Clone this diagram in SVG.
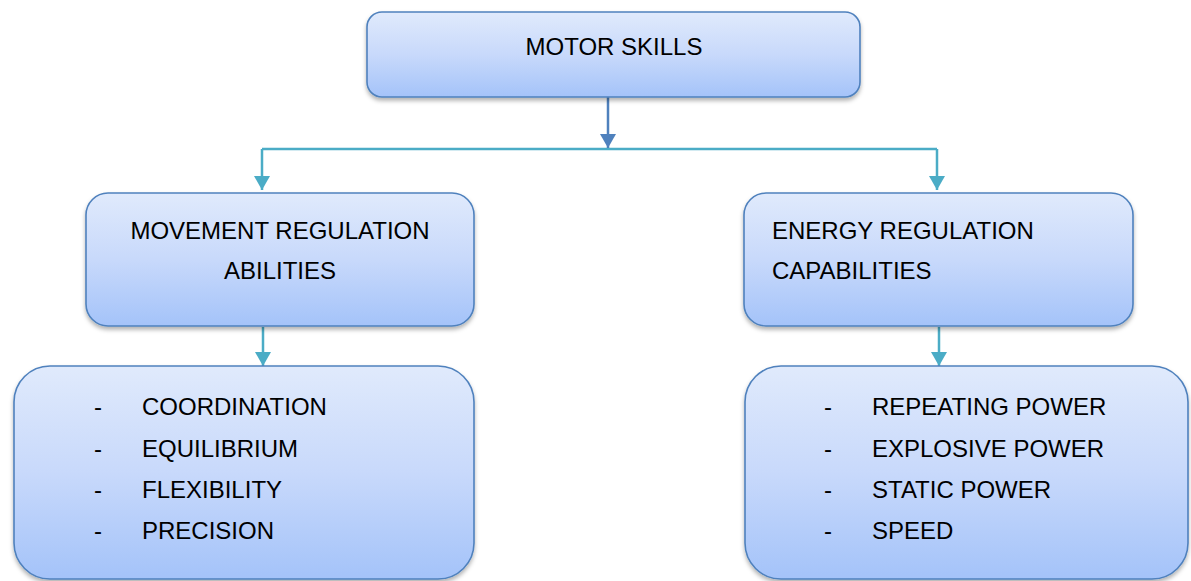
<svg xmlns="http://www.w3.org/2000/svg" width="1191" height="581" viewBox="0 0 1191 581">
  <style>
    .box { fill: url(#boxFill); stroke: #4f81bd; stroke-width: 1.6; filter: url(#shadow); }
    .label { font-family: "Liberation Sans", Arial, sans-serif; font-size: 24px; fill: #000; }
    .mid { text-anchor: middle; }
    .link { fill: none; stroke: #4bacc6; stroke-width: 2.5; }
    .link-main { fill: none; stroke: #4f81bd; stroke-width: 2.5; }
  </style>
  <defs>
    <linearGradient id="boxFill" x1="0" y1="0" x2="0" y2="1">
      <stop offset="0" stop-color="#e0eafc"/>
      <stop offset="0.5" stop-color="#c8d9fb"/>
      <stop offset="1" stop-color="#a4c3f9"/>
    </linearGradient>
    <filter id="shadow" x="-5%" y="-5%" width="110%" height="120%">
      <feDropShadow dx="0" dy="3" stdDeviation="2" flood-color="#000" flood-opacity="0.3"/>
    </filter>
    <!-- triangular heads drawn along +x, turned by the line direction -->
    <marker id="arrowTeal" viewBox="0 0 14 16" refX="14" refY="8" markerWidth="14" markerHeight="16" markerUnits="userSpaceOnUse" orient="auto">
      <path d="M0,0 L14,8 L0,16 Z" fill="#4bacc6"/>
    </marker>
    <marker id="arrowBlue" viewBox="0 0 14 16" refX="14" refY="8" markerWidth="14" markerHeight="16" markerUnits="userSpaceOnUse" orient="auto">
      <path d="M0,0 L14,8 L0,16 Z" fill="#4f81bd"/>
    </marker>
  </defs>

  <rect width="1191" height="581" fill="#fff"/>

  <!-- connectors -->
  <g id="connectors">
    <line class="link" x1="262" y1="149" x2="937" y2="149"/>
    <path class="link" d="M262,149 V190" marker-end="url(#arrowTeal)"/>
    <path class="link" d="M937,149 V190" marker-end="url(#arrowTeal)"/>
    <path class="link-main" d="M608,97 V148" marker-end="url(#arrowBlue)"/>
    <path class="link" d="M263,327 V366" marker-end="url(#arrowTeal)"/>
    <path class="link" d="M939,327 V366" marker-end="url(#arrowTeal)"/>
  </g>

  <!-- root -->
  <g id="motor-skills">
    <rect class="box" x="367" y="12" width="493" height="85" rx="15"/>
    <text class="label mid" x="614" y="55">MOTOR SKILLS</text>
  </g>

  <!-- second level -->
  <g id="movement-regulation">
    <rect class="box" x="86" y="193" width="388" height="133" rx="22"/>
    <text class="label mid" x="280" y="239">MOVEMENT REGULATION</text>
    <text class="label mid" x="280" y="279">ABILITIES</text>
  </g>
  <g id="energy-regulation">
    <rect class="box" x="744" y="193" width="389" height="133" rx="22"/>
    <text class="label" x="772" y="239">ENERGY REGULATION</text>
    <text class="label" x="772" y="279">CAPABILITIES</text>
  </g>

  <!-- third level -->
  <g id="movement-list">
    <rect class="box" x="14" y="366" width="460" height="213" rx="36"/>
    <g class="label">
      <text x="94" y="415">-</text><text x="142" y="415">COORDINATION</text>
      <text x="94" y="457">-</text><text x="142" y="457">EQUILIBRIUM</text>
      <text x="94" y="498">-</text><text x="142" y="498">FLEXIBILITY</text>
      <text x="94" y="539">-</text><text x="142" y="539">PRECISION</text>
    </g>
  </g>
  <g id="energy-list">
    <rect class="box" x="745" y="366" width="443" height="213" rx="36"/>
    <g class="label">
      <text x="824" y="415">-</text><text x="872" y="415">REPEATING POWER</text>
      <text x="824" y="457">-</text><text x="872" y="457">EXPLOSIVE POWER</text>
      <text x="824" y="498">-</text><text x="872" y="498">STATIC POWER</text>
      <text x="824" y="539">-</text><text x="872" y="539">SPEED</text>
    </g>
  </g>
</svg>
